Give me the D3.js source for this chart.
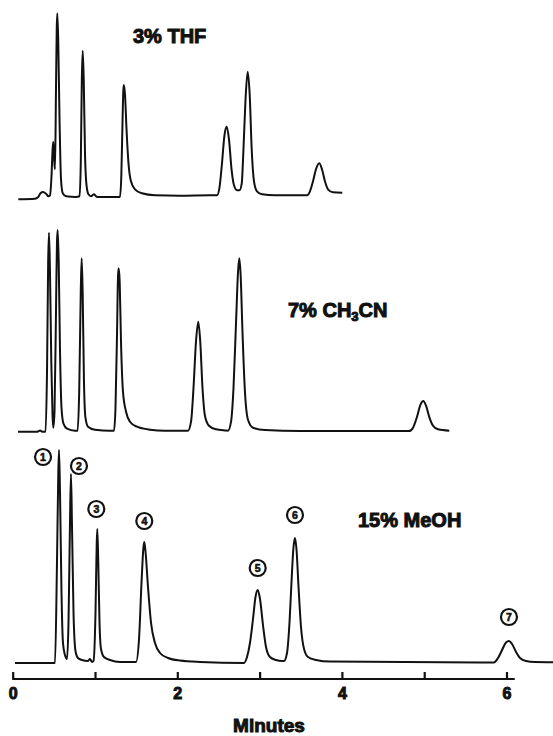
<!DOCTYPE html>
<html>
<head>
<meta charset="utf-8">
<script src="https://cdn.jsdelivr.net/npm/d3@7"></script>
<style>
  html, body { margin: 0; padding: 0; background: #fff; }
  svg { display: block; }
  text { font-family: "Liberation Sans", Arial, Helvetica, sans-serif; font-weight: bold; fill: #111; }
</style>
</head>
<body>
<svg id="chart" width="553" height="736"></svg>
<script>
// Detector traces: [retention time (min), response (arbitrary units)]
const traceTHF = [
  [0.068,0],[0.271,0.3],[0.307,1],[0.338,3],[0.368,3.6],[0.405,2.8],[0.435,1.5],[0.453,2],
  [0.472,12],[0.485,25],[0.493,28.8],[0.504,20],[0.514,15],[0.526,55],[0.535,85],[0.542,93],
  [0.553,80],[0.569,40],[0.587,10],[0.608,3],[0.648,1.5],[0.769,1.2],
  [0.812,1.5],[0.828,20],[0.840,60],[0.851,74.3],[0.863,60],[0.879,22],[0.897,7],[0.921,2.5],
  [0.952,1.5],[0.988,2.5],[1.024,1.2],[1.182,1.2],
  [1.304,1.2],[1.320,12],[1.335,40],[1.345,55],[1.352,57.2],[1.365,52],[1.383,35],[1.407,18],
  [1.437,9],[1.486,5],[1.571,3],[1.729,2],[2.033,1.8],[2.397,2],
  [2.482,2],[2.513,6],[2.543,18],[2.573,32],[2.600,36.3],[2.628,30],[2.659,15],[2.689,7],[2.726,4.5],
  [2.756,4.5],[2.783,8],[2.804,25],[2.829,50],[2.855,63.8],[2.880,52],[2.904,25],[2.932,9],
  [2.968,4],[3.029,2.5],[3.187,2],[3.552,2],
  [3.576,2],[3.612,4],[3.649,9],[3.685,15],[3.725,18],[3.758,15],[3.794,9],[3.831,5],
  [3.892,3.5],[4.005,3.3]
];

const traceMeCN = [
  [0.064,0],[0.300,0],[0.332,0.6],[0.360,0],[0.399,0],[0.417,30],[0.431,85],[0.441,99.5],
  [0.453,80],[0.469,35],[0.484,8],[0.493,2],[0.508,10],[0.526,60],[0.538,95],[0.547,100.8],
  [0.559,85],[0.575,40],[0.593,12],[0.617,4],[0.660,1.5],[0.757,0.5],
  [0.789,0.5],[0.808,20],[0.827,70],[0.838,86.7],[0.850,70],[0.866,25],[0.884,7],[0.915,2.5],
  [1.000,1],[1.182,0.5],
  [1.231,0.5],[1.249,12],[1.268,50],[1.280,78],[1.288,81.7],[1.300,75],[1.316,45],[1.340,20],
  [1.377,10],[1.425,5],[1.510,2.5],[1.668,1],[1.850,0.5],
  [2.130,0.5],[2.167,5],[2.197,22],[2.227,45],[2.255,55],[2.279,45],[2.306,22],[2.336,8],
  [2.385,3],[2.470,1.2],[2.592,0.6],
  [2.616,0.5],[2.653,5],[2.683,22],[2.714,55],[2.738,80],[2.753,86.7],[2.770,78],[2.792,50],
  [2.822,20],[2.859,6],[2.920,2],[3.066,0.8],[3.491,0.3],
  [4.815,0.3],[4.864,2],[4.913,7.5],[4.955,13.5],[4.989,15.3],[5.022,13],[5.064,7],[5.107,3],
  [5.168,1.2],[5.305,0.5]
];

const traceMeOH = [
  [0.028,0],[0.478,0],[0.514,0],[0.538,50],[0.554,95],[0.563,106.5],[0.575,85],[0.593,35],
  [0.611,10],[0.635,4],[0.660,2],[0.678,20],[0.696,70],[0.708,94.5],[0.720,70],[0.739,25],
  [0.763,6],[0.793,2.5],[0.842,1.5],[0.915,1],[0.939,2],[0.964,0.5],
  [0.982,1],[1.006,25],[1.021,60],[1.028,67],[1.040,50],[1.055,20],[1.073,7],[1.109,3],
  [1.182,1.5],[1.304,0.5],
  [1.498,0.5],[1.535,12],[1.565,40],[1.589,58],[1.599,60.5],[1.613,56],[1.644,38],[1.681,20],
  [1.729,10],[1.790,5],[1.887,2.5],[2.033,1.2],[2.277,0.5],
  [2.810,0],[2.847,3],[2.883,10],[2.920,22],[2.950,33],[2.977,36.5],[3.005,32],[3.041,19],
  [3.078,8],[3.126,3],[3.199,1.5],[3.272,1],
  [3.296,1],[3.333,5],[3.363,20],[3.387,40],[3.412,58],[3.430,62.5],[3.448,57],[3.473,38],
  [3.503,18],[3.540,7],[3.588,3],[3.686,1.5],[3.856,0.7],
  [5.678,0.3],[5.848,0.3],[5.897,2.5],[5.946,6.5],[5.994,10.3],[6.030,11],[6.067,9.5],
  [6.116,5.5],[6.164,2.5],[6.237,1],[6.346,0.5],[6.565,0.4]
];

// Mobile-phase labels
const panelLabels = ["3% THF", "7% CH|3|CN", "15% MeOH"];

// Numbered peaks of the methanol run: [peak no., apex time, apex response]
const peakNumbers = [1, 2, 3, 4, 5, 6, 7];
const peakTimes   = [0.563, 0.708, 1.028, 1.599, 2.977, 3.430, 6.030];
const peakHeights = [106.5, 94.5, 67, 60.5, 36.5, 62.5, 11];

// Time axis
const axisTicks = [0, 1, 2, 3, 4, 5, 6];
const axisLabelTicks = [0, 2, 4, 6];
const axisTitle = "Minutes";

const svg = d3.select("#chart");

const x = d3.scaleLinear().domain([0, 6]).range([12.7, 506.5]);

const panels = [
  { data: traceTHF,  base: 199.3, label: panelLabels[0], lx: 133, ly: 43 },
  { data: traceMeCN, base: 431.7, label: panelLabels[1], lx: 288, ly: 317 },
  { data: traceMeOH, base: 663,   label: panelLabels[2], lx: 358, ly: 527 }
];

panels.forEach(p => {
  p.y = d3.scaleLinear().domain([0, 100]).range([p.base, p.base - 200]);
  const line = d3.line()
    .x(d => x(d[0]))
    .y(d => p.y(d[1]))
    .curve(d3.curveMonotoneX);
  svg.append("path")
    .datum(p.data)
    .attr("d", line)
    .attr("fill", "none")
    .attr("stroke", "#111")
    .attr("stroke-width", 2)
    .attr("stroke-linejoin", "round");

  // label with subscript segments split by "|"
  const parts = p.label.split("|");
  const t = svg.append("text")
    .attr("x", p.lx).attr("y", p.ly)
    .attr("font-size", 20)
    .attr("stroke", "#111").attr("stroke-width", 1);
  parts.forEach((s, i) => {
    const sub = i % 2 === 1;
    t.append("tspan")
      .attr("font-size", sub ? 13 : 20)
      .attr("dy", sub ? 4 : (i > 0 ? -4 : 0))
      .text(s);
  });
});

// Circled peak numbers on the methanol trace
const bottom = panels[2];
const labelOffsets = [[-16, 7], [8, -8], [-1, -20], [0, -21], [0, -22], [0, -23], [0, -24]];
const marks = svg.append("g").selectAll("g")
  .data(peakNumbers)
  .join("g")
  .attr("transform", (d, i) =>
    `translate(${x(peakTimes[i]) + labelOffsets[i][0]},${bottom.y(peakHeights[i]) + labelOffsets[i][1]})`);
marks.append("circle")
  .attr("r", 8)
  .attr("fill", "#fff")
  .attr("stroke", "#111")
  .attr("stroke-width", 2.2);
marks.append("text")
  .attr("text-anchor", "middle")
  .attr("dy", "0.36em")
  .attr("font-size", 10.5)
  .attr("stroke", "#111").attr("stroke-width", 0.6)
  .text(d => d);

// Time axis
const axisY = 679;
const axis = d3.axisBottom(x)
  .tickValues(axisTicks)
  .tickSizeInner(-7)
  .tickSizeOuter(0)
  .tickPadding(9)
  .tickFormat(d => axisLabelTicks.includes(d) ? d : "");
const ax = svg.append("g")
  .attr("transform", `translate(0,${axisY})`)
  .call(axis);
ax.select(".domain")
  .attr("d", `M${x(0) - 0.5},0H${x(6.1)}`)
  .attr("stroke", "#111")
  .attr("stroke-width", 2.2);
ax.selectAll(".tick line")
  .attr("stroke", "#111")
  .attr("stroke-width", 2.2);
ax.selectAll(".tick text")
  .attr("font-size", 16)
  .attr("font-family", "'Liberation Sans', Arial, sans-serif")
  .attr("font-weight", "bold")
  .attr("fill", "#111")
  .attr("stroke", "#111").attr("stroke-width", 1);

svg.append("text")
  .attr("x", 269).attr("y", 732)
  .attr("text-anchor", "middle")
  .attr("font-size", 19)
  .attr("stroke", "#111").attr("stroke-width", 1)
  .text(axisTitle);
</script>
</body>
</html>
